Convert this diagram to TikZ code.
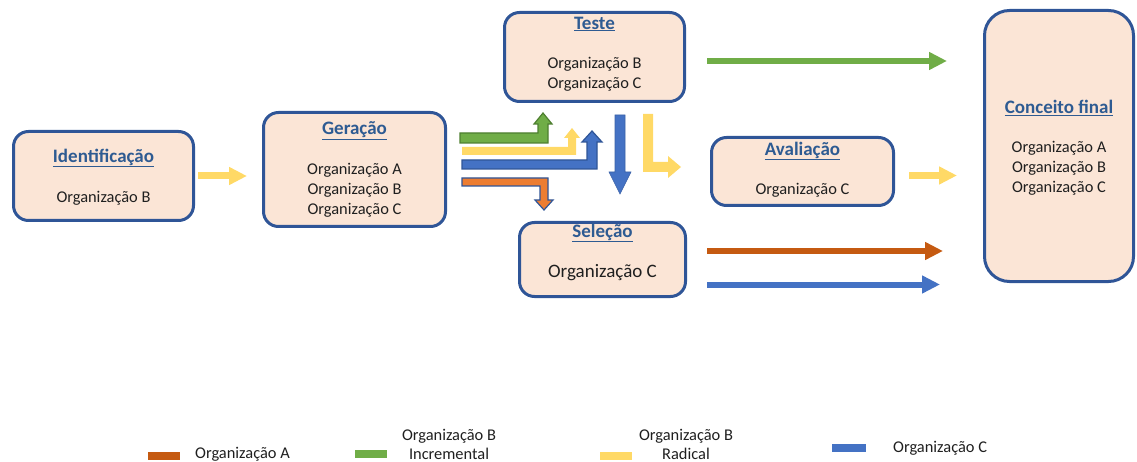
\documentclass[tikz,border=0pt]{standalone}
\usepackage{fontspec}
\setmainfont{Carlito}
\usetikzlibrary{arrows.meta}

\definecolor{boxfill}{HTML}{FBE5D6}
\definecolor{boxline}{HTML}{2F5597}
\definecolor{titleblue}{HTML}{2E5B92}
\definecolor{orgA}{HTML}{C55A11}
\definecolor{orgAlight}{HTML}{ED7D31}
\definecolor{orgB}{HTML}{70AD47}
\definecolor{orgBdark}{HTML}{4E7F30}
\definecolor{orgBrad}{HTML}{FFD966}
\definecolor{orgC}{HTML}{4472C4}
\definecolor{orgCdark}{HTML}{2F5597}

\tikzset{
  stage/.style={draw=boxline, line width=3pt, fill=boxfill, rounded corners=15pt, inner sep=0pt},
  stagetitle/.style={font=\fontsize{19}{22}\selectfont\bfseries, text=titleblue, inner sep=0pt},
  stagebody/.style={font=\fontsize{16.4}{20}\selectfont, align=center, text=black!88, inner sep=0pt},
  legendtext/.style={font=\fontsize{16.4}{19}\selectfont, align=center, text=black!88, inner sep=0pt},
  flow/.style={line width=#1, -{Triangle[length=18pt,width=17pt]}},
  flow/.default=6pt,
  bent/.style={line width=1.2pt, line join=miter},
}

\begin{document}
\begin{tikzpicture}[x=1pt,y=-1pt]
\useasboundingbox (0,0) rectangle (1137,462);

% stage boxes
\node[stage, minimum width=180pt, minimum height=89pt] (ident) at (103.5,176) {};
\node[stage, minimum width=182pt, minimum height=114pt] (gen) at (354.5,169.5) {};
\node[stage, minimum width=180pt, minimum height=89pt] (teste) at (594.5,57) {};
\node[stage, minimum width=166pt, minimum height=74pt] (sel) at (602.5,259.5) {};
\node[stage, minimum width=182pt, minimum height=68pt] (aval) at (802.5,171.5) {};
\node[stage, rounded corners=25pt, minimum width=149pt, minimum height=271pt] (final) at (1059,146) {};

% box texts
\node[stagetitle] (identT) at (103.5,158) {\underline{Identificação}};
\node[stagebody] (identB) at (103.5,198) {Organização B};

\node[stagetitle] (genT) at (354.5,131) {\underline{Geração}};
\node[stagebody] (genB) at (354.5,190) {Organização A\\Organização B\\Organização C};

\node[stagetitle] (testeT) at (594.5,24) {\underline{Teste}};
\node[stagebody] (testeB) at (594.5,74) {Organização B\\Organização C};

\node[stagetitle] (selT) at (602.5,233) {\underline{Seleção}};
\node[stagebody, font=\fontsize{19}{22}\selectfont] (selB) at (602.5,273) {Organização C};

\node[stagetitle] (avalT) at (802.5,151) {\underline{Avaliação}};
\node[stagebody] (avalB) at (802.5,190) {Organização C};

\node[stagetitle] (finalT) at (1059,108) {\underline{Conceito final}};
\node[stagebody] (finalB) at (1059,168) {Organização A\\Organização B\\Organização C};

% straight flow arrows
\coordinate (a1s) at (198,176);   \coordinate (a1e) at (247,176);
\coordinate (a2s) at (707,61);    \coordinate (a2e) at (947,61);
\coordinate (a3s) at (909,175.5); \coordinate (a3e) at (957,175.5);
\coordinate (a4s) at (707,251);   \coordinate (a4e) at (943,251);
\coordinate (a5s) at (707,284.5); \coordinate (a5e) at (940,284.5);
\draw[flow=7pt, orgBrad] (a1s) -- (a1e);
\draw[flow, orgB] (a2s) -- (a2e);
\draw[flow=7pt, orgBrad] (a3s) -- (a3e);
\draw[flow, orgA] (a4s) -- (a4e);
\draw[flow, orgC] (a5s) -- (a5e);

% bent arrows leaving Geração
\draw[bent, fill=orgB, draw=orgBdark]
  (460,133) -- (538,133) -- (538,124) -- (534,124) -- (543,113) -- (552,124)
  -- (548,124) -- (548,143) -- (460,143) -- cycle;
\fill[orgBrad]
  (462,147) -- (568,147) -- (568,138) -- (564,138) -- (572,128) -- (580,138)
  -- (576,138) -- (576,155) -- (462,155) -- cycle;
\draw[bent, fill=orgC, draw=orgCdark]
  (462,160) -- (587,160) -- (587,142) -- (582,142) -- (592,131) -- (602,142)
  -- (597,142) -- (597,169) -- (462,169) -- cycle;
\draw[bent, fill=orgAlight, draw=orgCdark]
  (462,178) -- (548,178) -- (548,200) -- (553,200) -- (544,210) -- (535,200)
  -- (540,200) -- (540,186) -- (462,186) -- cycle;

% arrows leaving Teste
\draw[bent, fill=orgC, draw=orgC!85!black, line width=0.6pt]
  (615,115) -- (625,115) -- (625,172) -- (631,172) -- (620,194) -- (609,172)
  -- (615,172) -- cycle;
\fill[orgBrad]
  (643,114) -- (653,114) -- (653,162) -- (668,162) -- (668,156) -- (681,167)
  -- (668,178) -- (668,172) -- (643,172) -- cycle;

% legend
\fill[orgA] (148,452) rectangle (180,460);
\node[legendtext, anchor=west] (legA) at (195,454) {Organização A};
\fill[orgB] (355,450) rectangle (387,458);
\node[legendtext] (legB) at (449,444.5) {Organização B\\Incremental};
\fill[orgBrad] (600,452) rectangle (632,460);
\node[legendtext] (legBr) at (686,444) {Organização B\\Radical};
\fill[orgC] (832,444) rectangle (866,452);
\node[legendtext, anchor=west] (legC) at (893,448) {Organização C};
\end{tikzpicture}
\end{document}
